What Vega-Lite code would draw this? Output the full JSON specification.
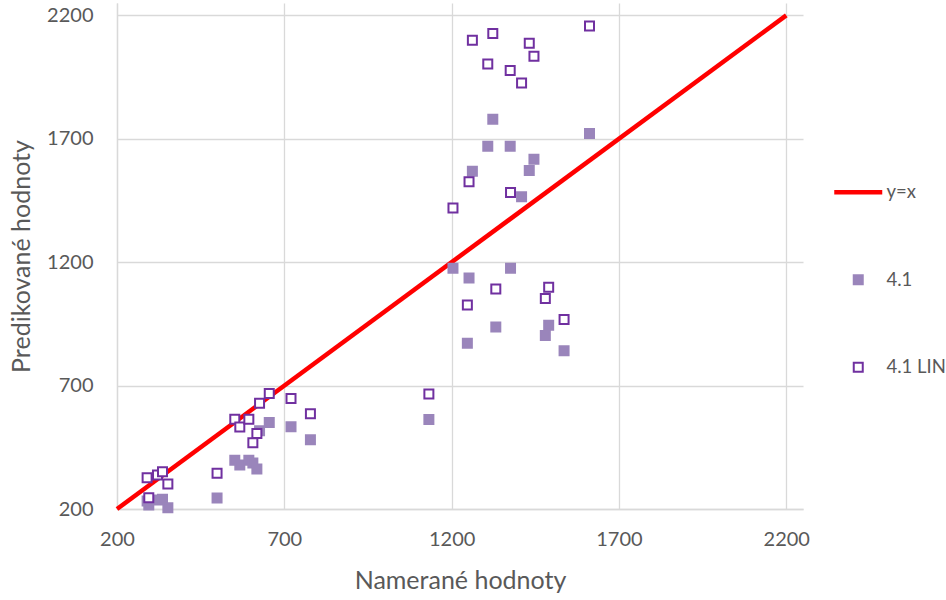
{
  "$schema": "https://vega.github.io/schema/vega-lite/v6.json",
  "width": 686,
  "height": 506,
  "autosize": {"type": "none"},
  "padding": {"left": 117, "top": 3, "right": 143, "bottom": 91},
  "background": "white",
  "config": {
    "view": {"stroke": null},
    "font": "Lato",
    "axis": {
      "gridColor": "#d9d9d9",
      "gridWidth": 1.3,
      "domainColor": "#d9d9d9",
      "domainWidth": 1.3,
      "ticks": false,
      "format": "d",
      "labelFlush": false,
      "labelColor": "#595959",
      "titleColor": "#595959",
      "labelFont": "Lato",
      "titleFont": "Lato",
      "labelFontSize": 20,
      "titleFontSize": 25,
      "titleFontWeight": "normal"
    },
    "legend": {
      "orient": "none",
      "legendX": 732,
      "legendY": 180,
      "padding": 0,
      "title": null,
      "symbolSize": 2304,
      "rowPadding": 68.5,
      "labelOffset": 19,
      "labelFont": "Lato",
      "labelFontSize": 18.5,
      "labelColor": "#595959",
      "symbolOpacity": 1
    }
  },
  "datasets": {
    "diagonal": [
      {"nam": 200, "pred": 200, "series": "y=x"},
      {"nam": 2200, "pred": 2200, "series": "y=x"}
    ],
    "points": [
      {"nam": 290, "pred": 232, "series": "4.1"},
      {"nam": 295, "pred": 216, "series": "4.1"},
      {"nam": 321, "pred": 236, "series": "4.1"},
      {"nam": 336, "pred": 240, "series": "4.1"},
      {"nam": 352, "pred": 205, "series": "4.1"},
      {"nam": 499, "pred": 245, "series": "4.1"},
      {"nam": 552, "pred": 398, "series": "4.1"},
      {"nam": 567, "pred": 378, "series": "4.1"},
      {"nam": 594, "pred": 398, "series": "4.1"},
      {"nam": 606, "pred": 386, "series": "4.1"},
      {"nam": 618, "pred": 362, "series": "4.1"},
      {"nam": 626, "pred": 517, "series": "4.1"},
      {"nam": 655, "pred": 550, "series": "4.1"},
      {"nam": 720, "pred": 533, "series": "4.1"},
      {"nam": 778, "pred": 481, "series": "4.1"},
      {"nam": 1132, "pred": 563, "series": "4.1"},
      {"nam": 1204, "pred": 1175, "series": "4.1"},
      {"nam": 1247, "pred": 872, "series": "4.1"},
      {"nam": 1252, "pred": 1136, "series": "4.1"},
      {"nam": 1262, "pred": 1568, "series": "4.1"},
      {"nam": 1308, "pred": 1670, "series": "4.1"},
      {"nam": 1323, "pred": 1779, "series": "4.1"},
      {"nam": 1332, "pred": 937, "series": "4.1"},
      {"nam": 1375, "pred": 1670, "series": "4.1"},
      {"nam": 1376, "pred": 1175, "series": "4.1"},
      {"nam": 1409, "pred": 1465, "series": "4.1"},
      {"nam": 1432, "pred": 1571, "series": "4.1"},
      {"nam": 1446, "pred": 1617, "series": "4.1"},
      {"nam": 1480, "pred": 903, "series": "4.1"},
      {"nam": 1490, "pred": 944, "series": "4.1"},
      {"nam": 1536, "pred": 841, "series": "4.1"},
      {"nam": 1612, "pred": 1721, "series": "4.1"},
      {"nam": 290, "pred": 327, "series": "4.1 LIN"},
      {"nam": 295, "pred": 246, "series": "4.1 LIN"},
      {"nam": 321, "pred": 338, "series": "4.1 LIN"},
      {"nam": 336, "pred": 351, "series": "4.1 LIN"},
      {"nam": 352, "pred": 301, "series": "4.1 LIN"},
      {"nam": 499, "pred": 345, "series": "4.1 LIN"},
      {"nam": 552, "pred": 564, "series": "4.1 LIN"},
      {"nam": 567, "pred": 532, "series": "4.1 LIN"},
      {"nam": 594, "pred": 564, "series": "4.1 LIN"},
      {"nam": 606, "pred": 468, "series": "4.1 LIN"},
      {"nam": 618, "pred": 506, "series": "4.1 LIN"},
      {"nam": 626, "pred": 628, "series": "4.1 LIN"},
      {"nam": 655, "pred": 668, "series": "4.1 LIN"},
      {"nam": 720, "pred": 648, "series": "4.1 LIN"},
      {"nam": 778, "pred": 586, "series": "4.1 LIN"},
      {"nam": 1132, "pred": 666, "series": "4.1 LIN"},
      {"nam": 1204, "pred": 1419, "series": "4.1 LIN"},
      {"nam": 1247, "pred": 1026, "series": "4.1 LIN"},
      {"nam": 1252, "pred": 1526, "series": "4.1 LIN"},
      {"nam": 1262, "pred": 2099, "series": "4.1 LIN"},
      {"nam": 1308, "pred": 2003, "series": "4.1 LIN"},
      {"nam": 1323, "pred": 2126, "series": "4.1 LIN"},
      {"nam": 1332, "pred": 1091, "series": "4.1 LIN"},
      {"nam": 1375, "pred": 1977, "series": "4.1 LIN"},
      {"nam": 1376, "pred": 1482, "series": "4.1 LIN"},
      {"nam": 1409, "pred": 1926, "series": "4.1 LIN"},
      {"nam": 1432, "pred": 2087, "series": "4.1 LIN"},
      {"nam": 1446, "pred": 2034, "series": "4.1 LIN"},
      {"nam": 1480, "pred": 1053, "series": "4.1 LIN"},
      {"nam": 1490, "pred": 1098, "series": "4.1 LIN"},
      {"nam": 1536, "pred": 968, "series": "4.1 LIN"},
      {"nam": 1612, "pred": 2157, "series": "4.1 LIN"}
    ]
  },
  "encoding": {
    "x": {
      "field": "nam",
      "type": "quantitative",
      "title": "Namerané hodnoty",
      "scale": {"domain": [200, 2250], "nice": false, "zero": false},
      "axis": {"values": [200, 700, 1200, 1700, 2200], "labelPadding": 20, "titlePadding": 19}
    },
    "y": {
      "field": "pred",
      "type": "quantitative",
      "title": "Predikované hodnoty",
      "scale": {"domain": [200, 2250], "nice": false, "zero": false},
      "axis": {"values": [200, 700, 1200, 1700, 2200], "labelPadding": 24, "titlePadding": 12}
    }
  },
  "layer": [
    {
      "data": {"name": "diagonal"},
      "mark": {"type": "line", "strokeWidth": 4.5, "clip": false},
      "encoding": {
        "stroke": {
          "field": "series",
          "type": "nominal",
          "scale": {"domain": ["y=x", "4.1", "4.1 LIN"], "range": ["#ff0000", "#9a85bb", "#7030a0"]},
          "legend": {
            "encode": {
              "symbols": {
                "update": {
                  "size": {"signal": "datum.value === 'y=x' ? 2304 : 81"},
                  "strokeWidth": {"signal": "datum.value === 'y=x' ? 4.5 : 2"}
                }
              }
            }
          }
        }
      }
    },
    {
      "data": {"name": "points"},
      "mark": {"type": "point", "size": 81, "strokeWidth": 2, "opacity": 1},
      "encoding": {
        "order": {"field": "series", "type": "nominal"},
        "stroke": {
          "field": "series",
          "type": "nominal",
          "scale": {"domain": ["y=x", "4.1", "4.1 LIN"], "range": ["#ff0000", "#9a85bb", "#7030a0"]},
          "legend": {
            "encode": {
              "symbols": {
                "update": {
                  "size": {"signal": "datum.value === 'y=x' ? 2304 : 81"},
                  "strokeWidth": {"signal": "datum.value === 'y=x' ? 4.5 : 2"}
                }
              }
            }
          }
        },
        "fill": {
          "field": "series",
          "type": "nominal",
          "scale": {"domain": ["y=x", "4.1", "4.1 LIN"], "range": ["#ff0000", "#9a85bb", "#ffffff"]},
          "legend": {
            "encode": {
              "symbols": {
                "update": {
                  "size": {"signal": "datum.value === 'y=x' ? 2304 : 81"},
                  "strokeWidth": {"signal": "datum.value === 'y=x' ? 4.5 : 2"}
                }
              }
            }
          }
        },
        "shape": {
          "field": "series",
          "type": "nominal",
          "scale": {"domain": ["y=x", "4.1", "4.1 LIN"], "range": ["stroke", "square", "square"]},
          "legend": {
            "encode": {
              "symbols": {
                "update": {
                  "size": {"signal": "datum.value === 'y=x' ? 2304 : 81"},
                  "strokeWidth": {"signal": "datum.value === 'y=x' ? 4.5 : 2"}
                }
              }
            }
          }
        }
      }
    }
  ]
}
